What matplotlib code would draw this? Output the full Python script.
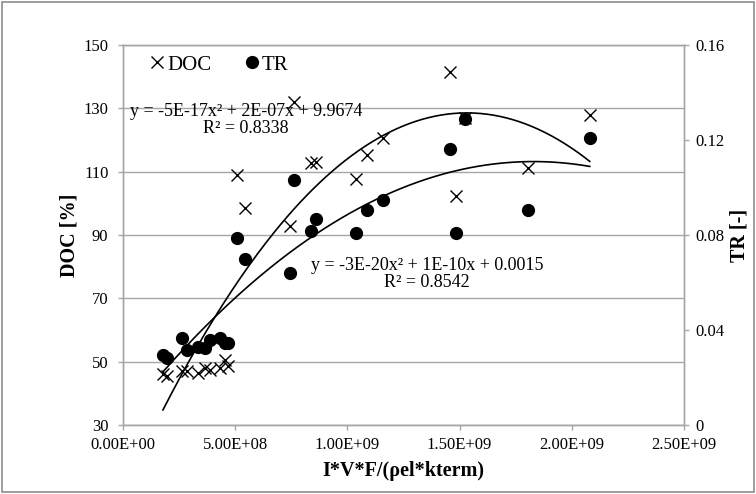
import numpy as np
import matplotlib
matplotlib.use("Agg")
import matplotlib.pyplot as plt
from matplotlib.patches import Rectangle
from matplotlib.lines import Line2D

# ---- data ----
x_vals = [1.78e8, 1.96e8, 2.63e8, 2.85e8, 3.34e8, 3.65e8, 3.88e8, 4.32e8, 4.54e8, 4.68e8,
          5.07e8, 5.44e8, 7.44e8, 7.62e8, 8.38e8, 8.62e8, 1.04e9, 1.086e9, 1.158e9,
          1.457e9, 1.485e9, 1.524e9, 1.805e9, 2.08e9]
doc_vals = [46.0, 45.5, 47.0, 47.0, 46.5, 48.0, 47.5, 48.0, 50.5, 48.5,
            109.0, 98.4, 92.8, 132.0, 112.8, 113.0, 107.7, 115.4, 120.5,
            141.5, 102.4, 127.0, 111.0, 128.0]
tr_vals = [0.0295, 0.0282, 0.0366, 0.0316, 0.0328, 0.0324, 0.0358, 0.0366, 0.0345, 0.0345,
           0.0786, 0.0700, 0.0641, 0.1033, 0.0816, 0.0868, 0.0810, 0.0907, 0.0948,
           0.1162, 0.0810, 0.1290, 0.0905, 0.1208]

doc_ticks = [30, 50, 70, 90, 110, 130, 150]
tr_ticks = [0, 0.04, 0.08, 0.12, 0.16]
tr_tick_labels = ["0", "0.04", "0.08", "0.12", "0.16"]
x_ticks = [0, 5e8, 1e9, 1.5e9, 2e9, 2.5e9]

doc_eq = "y = -5E-17x\u00b2 + 2E-07x + 9.9674\nR\u00b2 = 0.8338"
tr_eq = "y = -3E-20x\u00b2 + 1E-10x + 0.0015\nR\u00b2 = 0.8542"

# ---- style ----
plt.rcParams['font.family'] = ['Liberation Serif', 'DejaVu Serif']
GRID = '#a6a6a6'
W, H = 756, 494

fig = plt.figure(figsize=(W / 100, H / 100), dpi=100)
L, R, T, B = 123, 684, 45, 425
ax = fig.add_axes([L / W, 1 - B / H, (R - L) / W, (B - T) / H])
ax2 = ax.twinx()

x = np.array(x_vals)
doc = np.array(doc_vals)
tr = np.array(tr_vals)

ax.plot(x, doc, linestyle='none', marker='x', ms=9, mew=1.0, color='black', zorder=3)
ax2.plot(x, tr, linestyle='none', marker='o', ms=8.5, color='black', zorder=3)

# polynomial (order 2) trendlines fitted to the data
xs = np.linspace(x.min(), x.max(), 200)
pd_ = np.polyfit(x, doc, 2)
pt_ = np.polyfit(x, tr, 2)
ax.plot(xs, np.polyval(pd_, xs), color='black', lw=1.2, zorder=2)
ax2.plot(xs, np.polyval(pt_, xs), color='black', lw=1.2, zorder=2)

ax.set_xlim(0, 2.5e9)
ax.set_ylim(30, 150)
ax2.set_ylim(0, 0.16)
ax.set_xticks(x_ticks)
ax.set_xticklabels([f"{v:.2E}" for v in x_ticks])
ax.set_yticks(doc_ticks)
ax2.set_yticks(tr_ticks)
ax2.set_yticklabels(tr_tick_labels)

ax.yaxis.grid(True, color=GRID, lw=1.0)
ax.set_axisbelow(True)
for a in (ax, ax2):
    for s in a.spines.values():
        s.set_color(GRID)
        s.set_linewidth(1.0)
    a.tick_params(direction='out', length=3.5, width=1, color=GRID, labelsize=12, labelcolor='black')
ax.tick_params(axis='x', pad=5)
ax.tick_params(axis='y', pad=7)
ax2.tick_params(axis='y', pad=4.5)

ax.set_xlabel("I*V*F/(\u03c1el*kterm)", fontsize=14.5, fontweight='bold', labelpad=6)
ax.set_ylabel("DOC [%]", fontsize=14.5, fontweight='bold', labelpad=3)
ax2.set_ylabel("TR [-]", fontsize=14.5, fontweight='bold', labelpad=4)

# trendline equations
ax.text(246 / W, 1 - 120 / H, doc_eq, transform=fig.transFigure, ha='center', va='center',
        fontsize=13, linespacing=1.05)
ax.text(427 / W, 1 - 274 / H, tr_eq, transform=fig.transFigure, ha='center', va='center',
        fontsize=13, linespacing=1.05)

# legend
handles = [Line2D([], [], linestyle='none', marker='x', ms=9, mew=1.0, color='black'),
           Line2D([], [], linestyle='none', marker='o', ms=8.5, color='black')]
fig.legend(handles, ["DOC", "TR"], ncol=2, loc='center left', bbox_to_anchor=(147 / W, 1 - 65 / H),
           frameon=False, fontsize=15, handlelength=1.0, handletextpad=0.0, columnspacing=1.4,
           borderpad=0, borderaxespad=0)

# outer border
fig.patches.append(Rectangle((2 / W, 2 / H), 1 - 4 / W, 1 - 4 / H, transform=fig.transFigure,
                             fill=False, ec='#8c8c8c', lw=1.2))

fig.savefig("out.png", dpi=100)
